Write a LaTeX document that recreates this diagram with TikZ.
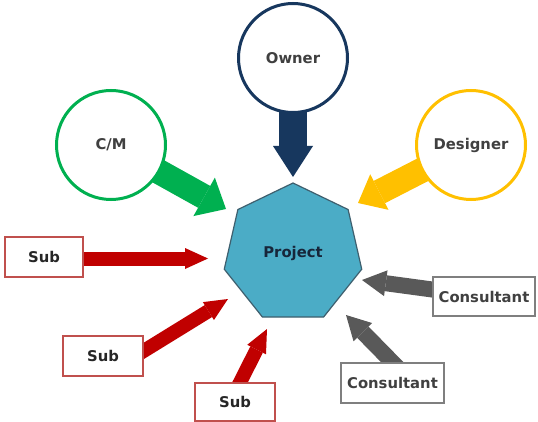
\documentclass[tikz,border=0pt]{standalone}
\usepackage{fontspec}
\setmainfont{DejaVu Sans}
\usetikzlibrary{shapes.geometric,arrows.meta,backgrounds,calc}
\definecolor{navy}{HTML}{17375E}
\definecolor{cmgreen}{HTML}{00B050}
\definecolor{dsyellow}{HTML}{FFC000}
\definecolor{subred}{HTML}{C00000}
\definecolor{subedge}{HTML}{C0504D}
\definecolor{congray}{HTML}{595959}
\definecolor{conedge}{HTML}{7F7F7F}
\definecolor{projfill}{HTML}{4BACC6}
\definecolor{projedge}{HTML}{3E5F6E}
\definecolor{txt}{HTML}{404040}
\definecolor{projtxt}{HTML}{17263A}
\begin{document}
\begin{tikzpicture}[x=1pt,y=-1pt,
  lbl/.style={font=\fontsize{14.8}{17}\selectfont\bfseries, text=txt},
  party/.style={circle, draw=#1, line width=3pt, fill=white, minimum size=109pt, inner sep=0pt, lbl},
  boxnode/.style={rectangle, line width=1.2pt, fill=white, inner sep=0pt, lbl},
  subbox/.style={boxnode, draw=subedge, text=black!85},
  conbox/.style={boxnode, draw=conedge},
  blockarrow/.style n args={4}{draw=#1, line width=#2, -{Triangle[width=#3,length=#4,line width=0pt]}},
]
\useasboundingbox (0,0) rectangle (538,422);

% main nodes
\node[regular polygon, regular polygon sides=7, minimum size=141pt, inner sep=0pt,
      fill=projfill, draw=projedge, line width=1.2pt, lbl, text=projtxt] (project) at (293,253.5) {Project};
\node[party=navy] (owner) at (293,58) {Owner};
\node[party=cmgreen] (cm) at (111,145) {C/M};
\node[party=dsyellow] (designer) at (471,145) {Designer};

\node[subbox, minimum width=78pt, minimum height=40pt] (sub1) at (44,257) {Sub};
\node[subbox, minimum width=80pt, minimum height=40pt] (sub2) at (103,356) {Sub};
\node[subbox, minimum width=80pt, minimum height=38pt] (sub3) at (235,402) {Sub};
\node[conbox, minimum width=102pt, minimum height=39pt] (cons1) at (484,296.5) {Consultant};
\node[conbox, minimum width=103pt, minimum height=40pt] (cons2) at (392.5,383) {Consultant};

% arrow tips (free ends)
\coordinate (tOwner) at (293,177);
\coordinate (tCM) at (226,209);
\coordinate (tDes) at (358,203);
\coordinate (tS1) at (208,258.5);
\coordinate (tS2) at (228,299);
\coordinate (tS3) at (267,329);
\coordinate (tC1) at (362,280);
\coordinate (tC2) at (346,315);

\coordinate (sS1) at (sub1.center |- tS1);
\coordinate (sS2) at ([yshift=5pt]sub2.east);
\coordinate (sS3) at ([xshift=5pt]sub3.north);
\coordinate (sC1) at (cons1.center);
\coordinate (sC2) at (cons2.north);

\begin{scope}[on background layer]
\fill[white] (0,0) rectangle (538,422);
\draw[blockarrow={navy}{28pt}{40pt}{31pt}] (owner.center) -- (tOwner);
\draw[blockarrow={cmgreen}{25pt}{44pt}{25pt}] (cm.center) -- (tCM);
\draw[blockarrow={dsyellow}{25pt}{40pt}{24pt}] (designer.center) -- (tDes);
\draw[blockarrow={subred}{14pt}{21pt}{23pt}] (sS1) -- (tS1);
\draw[blockarrow={subred}{14pt}{21pt}{23pt}] ($(sS2)!-15pt!(tS2)$) -- (tS2);
\draw[blockarrow={subred}{14pt}{21pt}{23pt}] ($(sS3)!-15pt!(tS3)$) -- (tS3);
\draw[blockarrow={congray}{16pt}{26pt}{24pt}] (sC1) -- (tC1);
\draw[blockarrow={congray}{16pt}{26pt}{24pt}] ($(sC2)!-15pt!(tC2)$) -- (tC2);
\end{scope}
\end{tikzpicture}
\end{document}
